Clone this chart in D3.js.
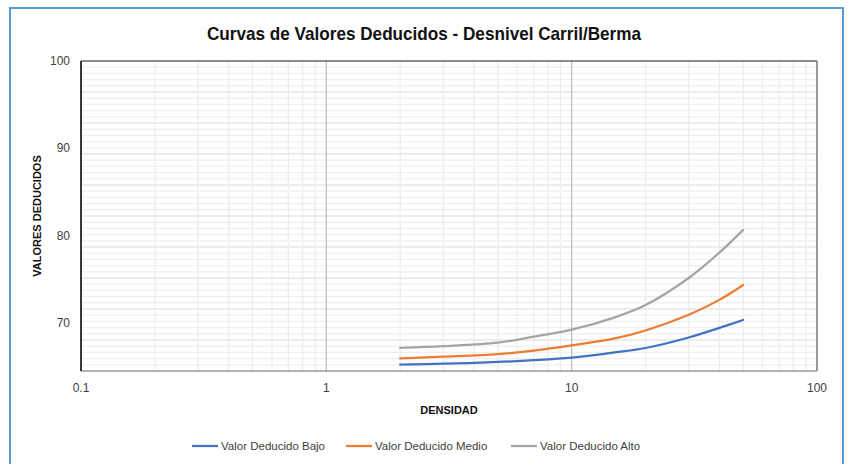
<!DOCTYPE html>
<html>
<head>
<meta charset="utf-8">
<script src="https://cdn.jsdelivr.net/npm/d3@7"></script>
<style>
  body { margin: 0; background: #fff; }
  svg { display: block; font-family: "Liberation Sans", Arial, sans-serif; }
</style>
</head>
<body>
<svg id="chart" width="851" height="464"></svg>
<script>
// DATA
const densidad = [2, 3, 5, 7, 10, 15, 20, 30, 40, 50];
const bajo  = [65.3, 65.4, 65.6, 65.8, 66.1, 66.7, 67.2, 68.4, 69.5, 70.4];
const medio = [66.0, 66.2, 66.5, 66.9, 67.5, 68.3, 69.2, 71.0, 72.7, 74.4];
const alto  = [67.2, 67.4, 67.8, 68.5, 69.3, 70.7, 72.1, 75.2, 78.1, 80.7];
const seriesNames = ["Valor Deducido Bajo", "Valor Deducido Medio", "Valor Deducido Alto"];
const xTicks = [0.1, 1, 10, 100];
const yTicks = [70, 80, 90, 100];

const colors = ["#4472c4", "#ed7d31", "#a5a5a5"];
const series = [bajo, medio, alto].map((vals, i) => ({
  name: seriesNames[i],
  color: colors[i],
  points: densidad.map((d, j) => ({x: d, y: vals[j]}))
}));

// SETUP
const svg = d3.select("#chart");
const plot = {left: 81, right: 817, top: 61, bottom: 371};
const yMin = 64.57, yMax = 100;

const x = d3.scaleLog().domain([0.1, 100]).range([plot.left, plot.right]);
const y = d3.scaleLinear().domain([yMin, yMax]).range([plot.bottom, plot.top]);

// outer frame
svg.append("rect")
  .attr("x", 10).attr("y", 8)
  .attr("width", 833).attr("height", 480)
  .attr("fill", "#fff")
  .attr("stroke", "#5b9bd5")
  .attr("stroke-width", 2);

// title
svg.append("text")
  .attr("x", 424).attr("y", 40)
  .attr("text-anchor", "middle")
  .attr("font-family", "'Liberation Sans Narrow', 'Liberation Sans', sans-serif")
  .attr("font-weight", "bold")
  .attr("font-size", 19)
  .attr("textLength", 434)
  .attr("lengthAdjust", "spacingAndGlyphs")
  .attr("fill", "#111")
  .text("Curvas de Valores Deducidos - Desnivel Carril/Berma");

// GRID
const grid = svg.append("g");

// horizontal: 10 major bands, 5 minor each
const hStep = (yMax - yMin) / 50;
d3.range(1, 50).forEach(i => {
  const v = yMin + i * hStep;
  grid.append("line")
    .attr("x1", plot.left).attr("x2", plot.right)
    .attr("y1", y(v)).attr("y2", y(v))
    .attr("stroke", i % 5 === 0 ? "#d9d9d9" : "#efefef")
    .attr("stroke-width", 1.2);
});

// vertical log minor lines
[0.1, 1, 10].forEach(dec => {
  d3.range(2, 10).forEach(m => {
    const v = dec * m;
    grid.append("line")
      .attr("x1", x(v)).attr("x2", x(v))
      .attr("y1", plot.top).attr("y2", plot.bottom)
      .attr("stroke", "#ececec")
      .attr("stroke-width", 1.2);
  });
});
[1, 10].forEach(v => {
  grid.append("line")
    .attr("x1", x(v)).attr("x2", x(v))
    .attr("y1", plot.top).attr("y2", plot.bottom)
    .attr("stroke", "#bfbfbf")
    .attr("stroke-width", 1.3);
});

// plot frame
svg.append("line").attr("x1", plot.left).attr("x2", plot.right).attr("y1", plot.top).attr("y2", plot.top)
  .attr("stroke", "#666").attr("stroke-width", 1.5);
svg.append("line").attr("x1", plot.right).attr("x2", plot.right).attr("y1", plot.top).attr("y2", plot.bottom)
  .attr("stroke", "#777").attr("stroke-width", 1.5);
svg.append("line").attr("x1", plot.left).attr("x2", plot.right).attr("y1", plot.bottom).attr("y2", plot.bottom)
  .attr("stroke", "#999").attr("stroke-width", 1.5);
svg.append("line").attr("x1", plot.left).attr("x2", plot.left).attr("y1", plot.top).attr("y2", plot.bottom)
  .attr("stroke", "#222").attr("stroke-width", 1.8);

// tick labels
svg.append("g").selectAll("text")
  .data(yTicks)
  .join("text")
  .attr("x", 70).attr("y", d => y(d) + 4)
  .attr("text-anchor", "end")
  .attr("font-size", 12)
  .attr("fill", "#404040")
  .text(d => d);

svg.append("g").selectAll("text")
  .data(xTicks)
  .join("text")
  .attr("x", d => x(d)).attr("y", 392)
  .attr("text-anchor", "middle")
  .attr("font-size", 12)
  .attr("fill", "#404040")
  .text(d => d);

// axis titles
svg.append("text")
  .attr("x", 449).attr("y", 414)
  .attr("text-anchor", "middle")
  .attr("font-size", 11)
  .attr("font-weight", "bold")
  .attr("fill", "#111")
  .text("DENSIDAD");

svg.append("text")
  .attr("transform", "translate(41,216) rotate(-90)")
  .attr("text-anchor", "middle")
  .attr("font-size", 11)
  .attr("font-weight", "bold")
  .attr("fill", "#111")
  .text("VALORES DEDUCIDOS");

// LINES
const line = d3.line()
  .x(d => x(d.x))
  .y(d => y(d.y))
  .curve(d3.curveCatmullRom.alpha(0.5));

svg.append("g").selectAll("path")
  .data(series)
  .join("path")
  .attr("d", d => line(d.points))
  .attr("fill", "none")
  .attr("stroke", d => d.color)
  .attr("stroke-width", 2.25)
  .attr("stroke-linecap", "round");

// LEGEND
const legendX = [192, 346, 511];
const legend = svg.append("g").selectAll("g")
  .data(series)
  .join("g")
  .attr("transform", (d, i) => `translate(${legendX[i]},446)`);
legend.append("line")
  .attr("x1", 0).attr("x2", 26)
  .attr("stroke", d => d.color)
  .attr("stroke-width", 2.25);
legend.append("text")
  .attr("x", 29).attr("y", 4)
  .attr("font-size", 11.5)
  .attr("fill", "#404040")
  .text(d => d.name);
</script>
</body>
</html>
